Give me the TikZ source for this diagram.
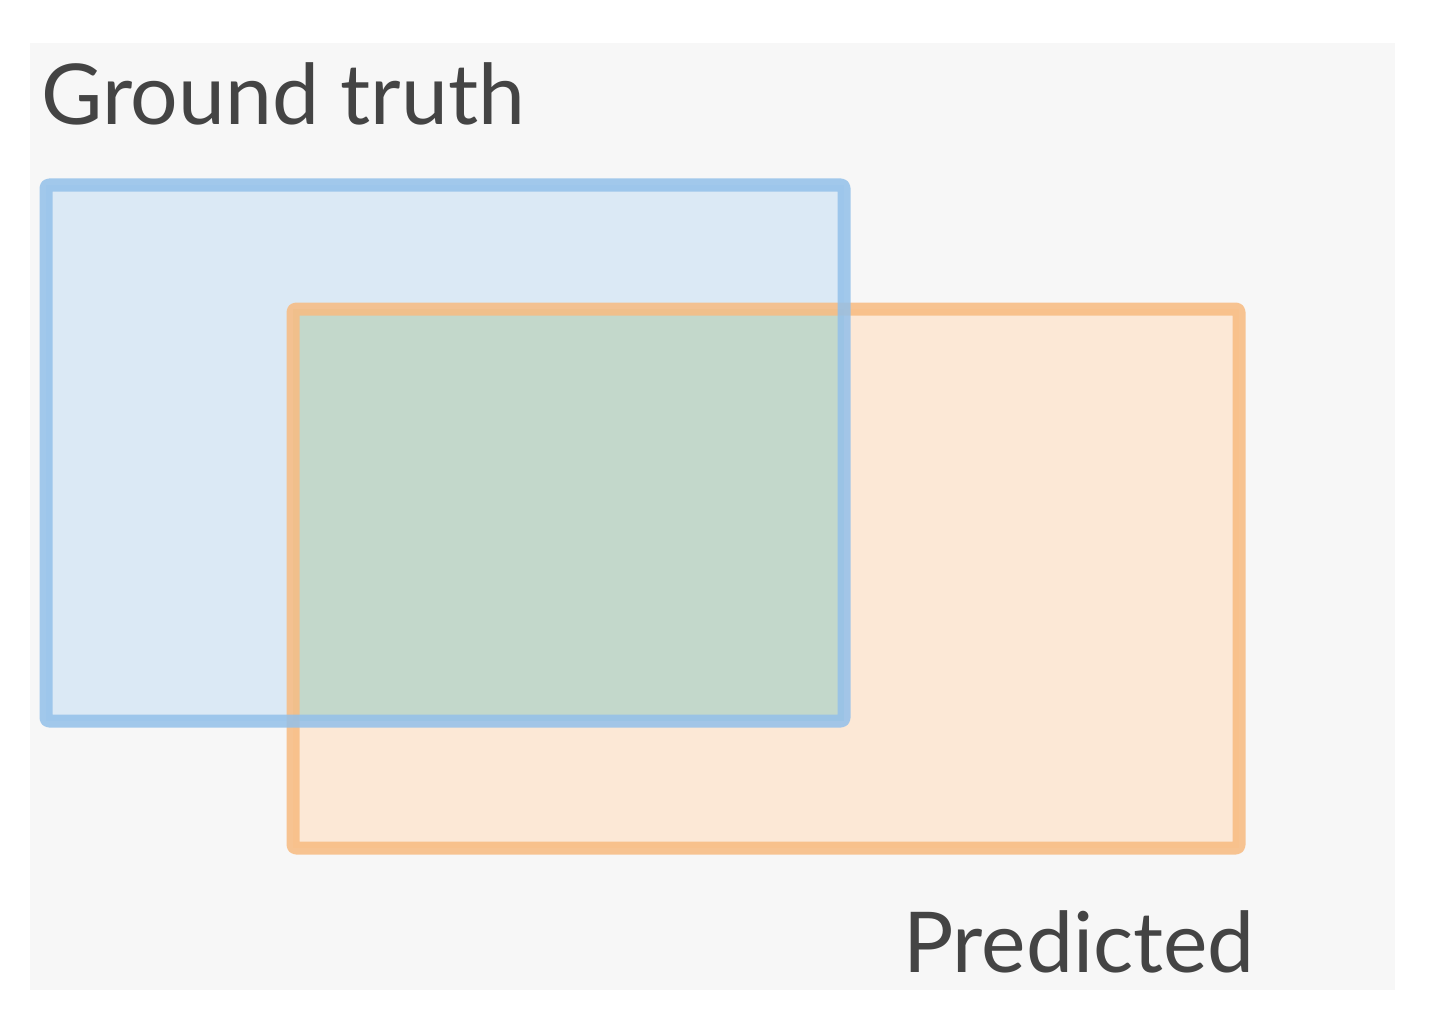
\documentclass[tikz,border=0pt]{standalone}
\usepackage{fontspec}
\setmainfont{Lato}
\definecolor{bgc}{HTML}{F7F7F7}
\definecolor{bluestroke}{HTML}{93C0EA}
\definecolor{bluefill}{HTML}{DBE9F5}
\definecolor{orangestroke}{HTML}{F8BB80}
\definecolor{orangefill}{HTML}{FCE8D6}
\definecolor{overlapfill}{HTML}{C3D8CB}
\definecolor{textc}{HTML}{444444}
\tikzset{
  boxline/.style={line width=13pt, rounded corners=3pt, line join=round},
  label/.style={inner sep=0pt, anchor=base west, text=textc, font=\fontsize{84}{90}\selectfont},
}
\begin{document}
\begin{tikzpicture}[x=1pt,y=-1pt]
\useasboundingbox (0,0) rectangle (1430,1022);
\fill[white] (0,0) rectangle (1430,1022);
\fill[bgc] (30,43) rectangle (1395,990);
% fills
\fill[orangefill] (293,309) rectangle (1239,848);
\fill[bluefill] (46,185) rectangle (844,721);
\fill[overlapfill] (293,309) rectangle (844,721);
% strokes
\draw[boxline, orangestroke, draw opacity=0.85] (293,309) rectangle (1239,848);
\draw[boxline, bluestroke, draw opacity=0.85] (46,185) rectangle (844,721);
% labels
\node[label] (gt) at (41,125) {Ground truth};
\node[label] (pr) at (903,972) {Predicted};
\end{tikzpicture}
\end{document}
